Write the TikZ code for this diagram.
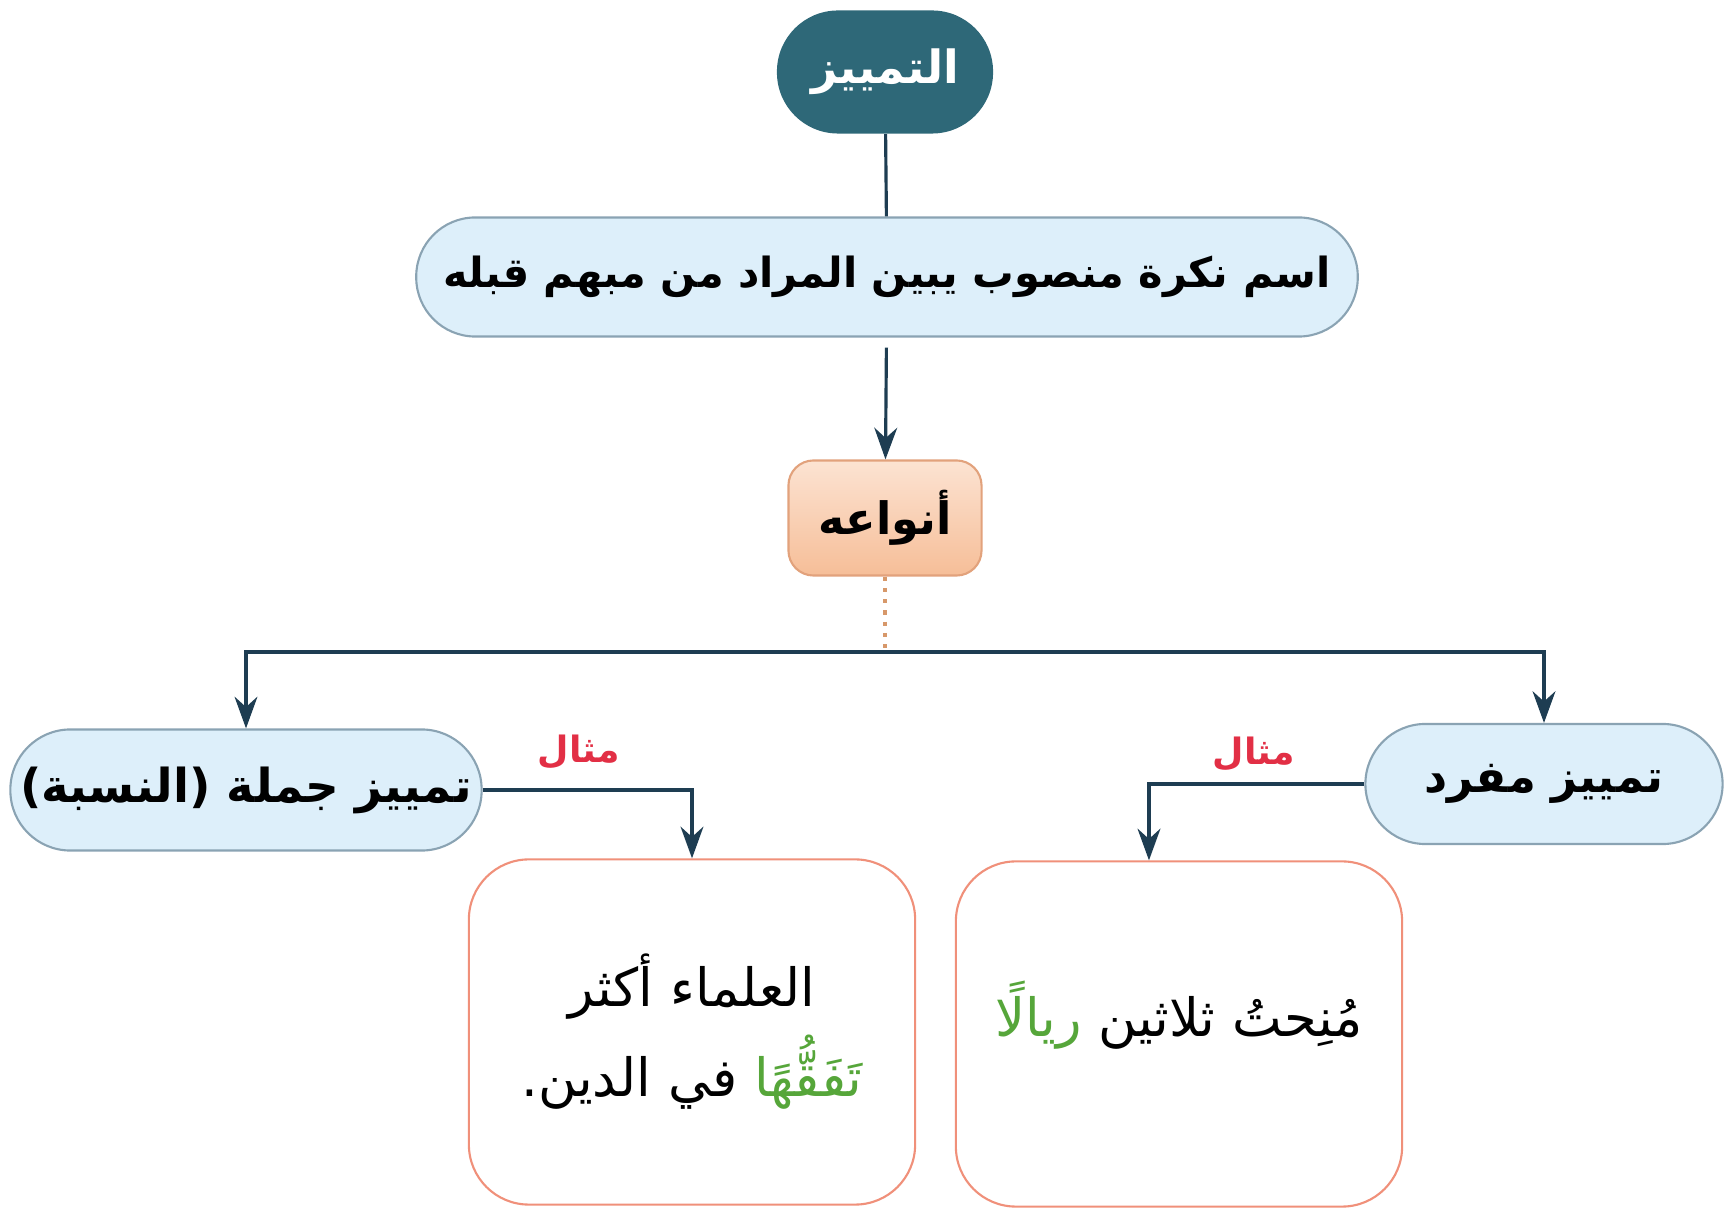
\documentclass[tikz,border=0pt]{standalone}
\usepackage{fontspec}
\newfontfamily\arabicfont[Script=Arabic]{DejaVu Sans}
\TeXXeTstate=1
\usetikzlibrary{arrows.meta}
\definecolor{tealdark}{HTML}{2E6878}
\definecolor{lineblue}{HTML}{1E3D52}
\definecolor{paleblue}{HTML}{DDEFFA}
\definecolor{paleedge}{HTML}{8AA3B3}
\definecolor{peach}{HTML}{F6BE98}
\definecolor{peachlight}{HTML}{FCE3D2}
\definecolor{peachedge}{HTML}{E2A27C}
\definecolor{salmon}{HTML}{F0907A}
\definecolor{exgreen}{HTML}{56A63A}
\definecolor{labelred}{HTML}{E22F45}
% green word, set as its own right-to-left run (placed in visual order)
\newcommand{\greenword}[1]{\textcolor{exgreen}{\beginR #1\endR}}

\begin{document}
\begin{tikzpicture}[x=0.01cm,y=-0.01cm,
	conn/.style={lineblue, line width=0.9pt},
	arrowconn/.style={conn, -{Stealth[length=9pt,width=6.5pt]}},
	pill/.style={draw=paleedge, fill=paleblue, line width=0.6pt, inner sep=0pt,
		font=\arabicfont\bfseries\fontsize{12.8}{15}\selectfont},
	examplebox/.style={draw=salmon, fill=white, line width=0.6pt, rounded corners=0.6cm,
		minimum width=4.46cm, minimum height=3.45cm, inner sep=0pt, align=center,
		font=\arabicfont\fontsize{15}{25.6}\selectfont},
	mithal/.style={labelred, font=\arabicfont\bfseries\fontsize{10.3}{12}\selectfont}]
	% Frame of the page
	\useasboundingbox (0,0) rectangle (1729,1228);
	% Title and definition
	\node[fill=tealdark, rounded corners=0.61cm, minimum width=2.16cm, minimum height=1.23cm,
		text=white, font=\arabicfont\bfseries\fontsize{13}{15}\selectfont] (title) at (885,72) {\beginR التمييز\endR};
	\node[pill, rounded corners=0.59cm, minimum width=9.41cm, minimum height=1.19cm,
		font=\arabicfont\bfseries\fontsize{11.8}{14}\selectfont] (def) at (887,277) {\beginR اسم نكرة منصوب يبين المراد من مبهم قبله\endR};
	\node[draw=peachedge, top color=peachlight, bottom color=peach, line width=0.6pt, rounded corners=0.25cm,
		minimum width=1.93cm, minimum height=1.15cm, font=\arabicfont\bfseries\fontsize{12.7}{15}\selectfont] (kinds) at (885,518) {\beginR أنواعه\endR};
	% The two kinds
	\node[pill, rounded corners=0.6cm, minimum width=4.71cm, minimum height=1.21cm,
		font=\arabicfont\bfseries\fontsize{13.3}{15}\selectfont] (jumla) at (246,790) {\beginR تمييز جملة (النسبة)\endR};
	\node[pill, rounded corners=0.6cm, minimum width=3.57cm, minimum height=1.20cm] (mufrad) at (1544,784) {\beginR تمييز مفرد\endR};
	% Examples
	\node[examplebox] (exjumla) at (692,1032) {\beginR العلماء أكثر\endR\\ {\beginR في الدين.\endR}\ \greenword{تَفَقُّهًا}};
	\node[examplebox] (exmufrad) at (1179,1034) {\raisebox{0.5cm}{\greenword{ريالًا}\ \beginR مُنِحتُ ثلاثين\endR}};
	% Connectors
	\coordinate (split) at (885,652);
	\draw[conn] (title) -- (def);
	\draw[arrowconn, shorten <=0.1cm] (def) -- (kinds);
	\draw[peachedge!70!brown, line width=1.2pt, dotted] (kinds) -- (split);
	\draw[arrowconn] (split) -| (jumla.north);
	\draw[arrowconn] (split) -| (mufrad.north);
	\draw[arrowconn] (jumla.east) -| (exjumla.north);
	\draw[arrowconn] (mufrad.west) -| ([xshift=-0.3cm]exmufrad.north);
	% Labels
	\node[mithal] (mithalA) at (579,752) {\beginR مثال\endR};
	\node[mithal] (mithalB) at (1254,754) {\beginR مثال\endR};
\end{tikzpicture}
\end{document}
